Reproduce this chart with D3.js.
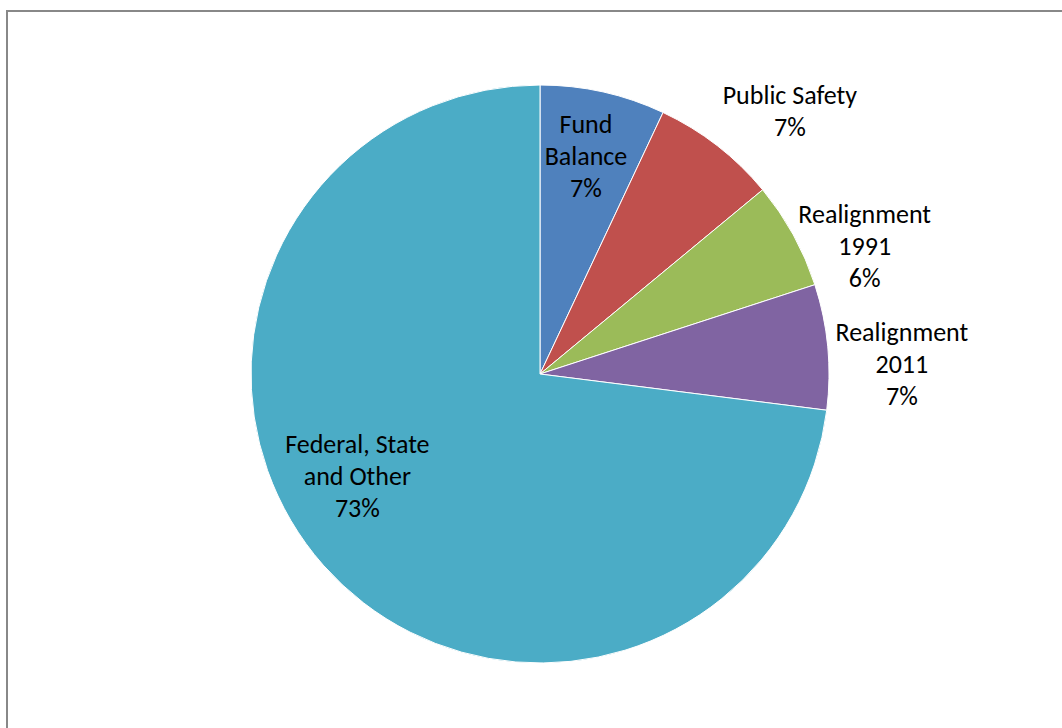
<!DOCTYPE html>
<html>
<head>
<meta charset="utf-8">
<script src="https://cdn.jsdelivr.net/npm/d3@7"></script>
<style>
  html, body { margin: 0; padding: 0; background: #fff; }
  svg { display: block; }
  text { font-family: Carlito, "Open Sans", "Liberation Sans", sans-serif; fill: #000; }
</style>
</head>
<body>
<svg id="chart" width="1062" height="728"></svg>
<script>
// Revenue sources, in percent of the total
const categories = ["Fund Balance", "Public Safety", "Realignment 1991", "Realignment 2011", "Federal, State and Other"];
const values = [7, 7, 6, 7, 73];
const labelLines = [
  ["Fund", "Balance", "7%"],
  ["Public Safety", "7%"],
  ["Realignment", "1991", "6%"],
  ["Realignment", "2011", "7%"],
  ["Federal, State", "and Other", "73%"]
];
const colors = ["#4F81BD", "#C0504D", "#9BBB59", "#8064A2", "#4BACC6"];

const svg = d3.select("#chart");
const width = 1062, height = 728;

// chart-area frame
svg.append("rect")
  .attr("x", 7).attr("y", 11)
  .attr("width", width + 20).attr("height", height + 20)
  .attr("fill", "#fff")
  .attr("stroke", "#888").attr("stroke-width", 2);

const cx = 540, cy = 374, radius = 289;
const g = svg.append("g").attr("transform", `translate(${cx},${cy})`);

const pie = d3.pie().value(d => d).sort(null);
const arcs = pie(values);
const arc = d3.arc().innerRadius(0).outerRadius(radius);

const color = d3.scaleOrdinal().domain(categories).range(colors);

g.selectAll("path.slice")
  .data(arcs)
  .enter().append("path")
  .attr("class", "slice")
  .attr("d", arc)
  .attr("fill", (d, i) => color(categories[i]))
  .attr("stroke", "#fff")
  .attr("stroke-width", 1);

// label placement: radius and angular shift (degrees) from each slice's mid-angle
const labelPlace = [
  { r: 223, shift: -0.7 },
  { r: 363, shift: 5.7 },
  { r: 349, shift: 7.3 },
  { r: 362, shift: 3.8 },
  { r: 209, shift: 12.3 }
];
const lineH = 32;
const labels = g.selectAll("text.lbl")
  .data(arcs)
  .enter().append("text")
  .attr("class", "lbl")
  .attr("text-anchor", "middle")
  .attr("font-size", 26)
  .attr("transform", (d, i) => {
    const a = (d.startAngle + d.endAngle) / 2 + labelPlace[i].shift * Math.PI / 180;
    const r = labelPlace[i].r;
    return `translate(${r * Math.sin(a)},${-r * Math.cos(a)})`;
  });

labels.each(function(d, i) {
  const lines = labelLines[i];
  const t = d3.select(this);
  const n = lines.length;
  lines.forEach((ln, k) => {
    t.append("tspan")
      .attr("x", 0)
      .attr("y", (k - (n - 1) / 2) * lineH)
      .attr("dy", "0.35em")
      .text(ln);
  });
});
</script>
</body>
</html>
